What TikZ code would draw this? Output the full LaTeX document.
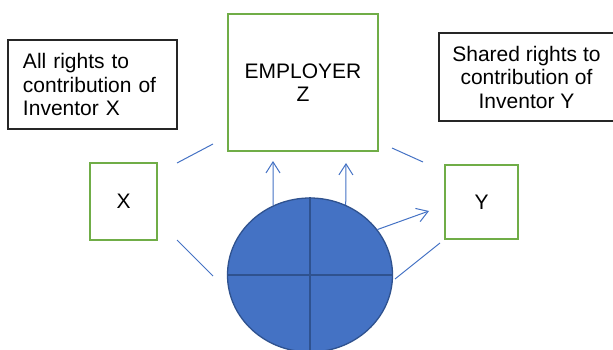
\documentclass[tikz,border=0pt]{standalone}
\usepackage{fontspec}
\setmainfont{Liberation Sans}
\usetikzlibrary{arrows.meta,shapes.geometric}
\definecolor{boxgreen}{HTML}{70AD47}
\definecolor{discblue}{HTML}{4472C4}
\definecolor{discedge}{HTML}{2F528F}
\tikzset{
	greenbox/.style={draw=boxgreen, line width=2pt, align=center},
	textbox/.style={draw=black!85, line width=1.5pt},
	link/.style={discblue, line width=1pt},
	arrowline/.style={link, -{Straight Barb[length=11pt,width=14pt]}}
}
\begin{document}
\begin{tikzpicture}[x=1pt, y=-1pt, font=\fontsize{21}{23.5}\selectfont]
		\useasboundingbox (0,0) rectangle (613,350);
		\node [textbox, minimum height=89pt, text width=139pt, inner xsep=15pt, align=left] (allx) at (92.5,84.5) {All rights to\\contribution of\\Inventor X};
		\node [textbox, minimum width=175pt, minimum height=88pt, align=center] (sharedy) at (526.5,77) {Shared rights to\\contribution of\\Inventor Y};
		\node [greenbox, minimum width=150pt, minimum height=137pt] (empz) at (303,82.5) {EMPLOYER\\Z};
		\node [greenbox, minimum width=67pt, minimum height=77pt] (invx) at (123.7,201) {X};
		\node [greenbox, minimum width=73pt, minimum height=74pt] (invy) at (481.7,202) {Y};
		\node [ellipse, fill=discblue, draw=discedge, line width=1.3pt, inner sep=0pt, minimum width=165pt, minimum height=154pt] (disc) at (310,275) {};
		\draw [discedge, line width=1.6pt] (disc.north) -- (disc.south) (disc.west) -- (disc.east);
		\coordinate (xup) at (177,163);
		\coordinate (zleft) at (213,144);
		\coordinate (zright) at (392,148);
		\coordinate (yup) at (423,162);
		\coordinate (xdown) at (177,240);
		\coordinate (dleft) at (213,276);
		\coordinate (dright) at (395,279);
		\coordinate (ydown) at (440,243);
		\coordinate (tipa) at (273,161);
		\coordinate (tipb) at (346,163);
		\coordinate (tipc) at (429,211);
		\draw [link] (xup) -- (zleft);
		\draw [link] (zright) -- (yup);
		\draw [link] (xdown) -- (dleft);
		\draw [link] (dright) -- (ydown);
		\draw [arrowline] (disc.118) -- (tipa);
		\draw [arrowline] (disc.63) -- (tipb);
		\draw [arrowline] (disc.34) -- (tipc);
\end{tikzpicture}
\end{document}
